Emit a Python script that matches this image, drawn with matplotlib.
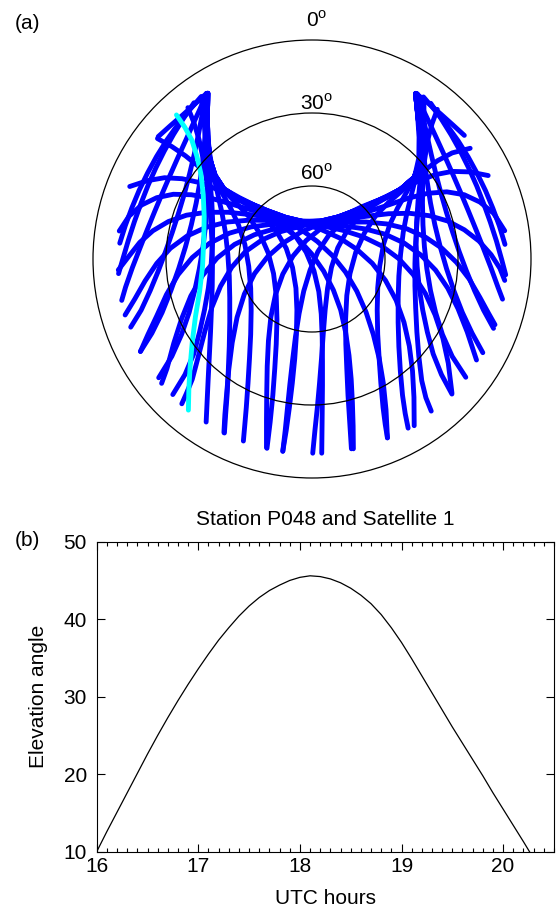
import matplotlib
matplotlib.use("Agg")
import matplotlib.pyplot as plt
from matplotlib.patches import Circle
from matplotlib.ticker import MultipleLocator

plt.rcParams["font.family"] = ["Liberation Sans", "DejaVu Sans"]
plt.rcParams["mathtext.fontset"] = "custom"
plt.rcParams["mathtext.rm"] = "Liberation Sans"

# ---------------------------------------------------------------------------
# (a) Sky tracks of all satellites seen from station P048.
# Points are (east, north) sky coordinates in degrees of zenith distance:
# zenith at the origin, horizon at 90, 10-degree elevation mask at 80.
# ---------------------------------------------------------------------------

# low passes rising in the north-west and setting in the west
nw_low_tracks = [
    [(-45.5, 66.8), (-50.5, 61), (-55.3, 55), (-59.8, 48.7), (-63.9, 42.1), (-67.6, 35.3),
     (-71, 28.3), (-74, 21.1), (-76.7, 13.8), (-79, 6.5)],
    [(-48.5, 64.2), (-52.8, 57.8), (-56.9, 51.2), (-60.7, 44.4), (-64.2, 37.4), (-67.4, 30.2),
     (-70.3, 22.8), (-73, 15.3), (-75.5, 7.6), (-77.8, -0.2), (-79.5, -6)],
    [(-43.3, 68), (-46.1, 61.5), (-49.1, 55), (-52.1, 48.3), (-55.2, 41.5), (-58.3, 34.5),
     (-61.4, 27.3), (-64.5, 19.9), (-67.6, 12.3), (-70.7, 4.5), (-73.8, -3.5), (-76.6, -11.5),
     (-78.2, -17)],
    [(-43.3, 68.1), (-48, 63.8), (-53, 59.3), (-58.2, 54.8), (-63.2, 50.3)],
]

# passes from the north-west horn down to the south-west / south
nw_south_tracks = [
    [(-44, 67), (-45.2, 59), (-46.7, 51), (-48.4, 43), (-50.3, 35), (-52.4, 27), (-54.8, 19),
     (-57.4, 11), (-60.2, 3), (-63.2, -5), (-66.5, -13), (-70.2, -21), (-74.5, -28)],
    [(-43.3, 68), (-43.5, 59), (-44, 50), (-44.8, 41), (-46, 32), (-47.6, 23), (-49.6, 14),
     (-52, 5), (-54.8, -4), (-58, -13), (-61.6, -22), (-65.8, -30.5), (-70.5, -38)],
    [(-45.5, 66), (-44.5, 58), (-43.8, 49.5), (-43.3, 41), (-43, 32), (-43.1, 23), (-43.7, 14),
     (-44.8, 5), (-46.3, -4), (-48.2, -13), (-50.5, -22), (-53.6, -31), (-57.6, -40), (-63, -48.8)],
    [(-43.3, 68), (-43.3, 59), (-43.2, 50), (-42.9, 41), (-42, 32.5), (-41.2, 24), (-40.8, 15),
     (-40.9, 6), (-41.5, -3), (-42.6, -12), (-44.2, -21), (-46.2, -30), (-48.6, -39),
     (-52.2, -47.5), (-57.2, -55.7)],
    [(-51, 62.2), (-48.5, 56), (-46.4, 49), (-44.8, 41.5), (-43.5, 33.5), (-42.4, 25), (-41.6, 16),
     (-41.1, 7), (-40.9, -2), (-41, -11), (-41.3, -20), (-41.7, -30), (-42.2, -40), (-42.7, -50),
     (-43.1, -58.5), (-43.5, -67)],
    [(-44, 67), (-43.5, 59), (-42.9, 51), (-42, 43), (-40.6, 35), (-38.8, 27), (-37, 19),
     (-35.6, 11), (-34.6, 2), (-34, -7), (-33.8, -16), (-33.8, -26), (-34, -36), (-34.4, -46),
     (-34.9, -56), (-35.5, -64), (-36, -71.5)],
    [(-43.3, 68), (-43.3, 59), (-43, 50), (-42.2, 41.5), (-40.3, 34), (-37.2, 27.5), (-33.5, 21),
     (-30.2, 14), (-27.6, 6), (-26, -3), (-25.2, -12), (-25, -21), (-25.2, -31), (-25.7, -41),
     (-26.3, -51), (-27, -61), (-27.6, -68), (-28.2, -74.8)],
    [(-43.3, 68), (-43.3, 58), (-43, 49), (-42.2, 41), (-40, 34), (-36.3, 28.2), (-31.3, 23.2),
     (-26, 17.5), (-21.5, 10.5), (-18, 2.5), (-15.8, -6), (-14.7, -15), (-14.4, -25), (-14.7, -35),
     (-15.3, -45), (-16.1, -56), (-17.2, -67), (-18.5, -77.8)],
    [(-43.3, 68), (-43.3, 58), (-43, 49), (-42.2, 41), (-40, 34), (-36.5, 28.4), (-31.5, 25.2),
     (-25.5, 21.8), (-19.8, 17.2), (-14.6, 11.4), (-10.6, 4.4), (-8, -3.5), (-6.6, -12),
     (-6.2, -21), (-6.4, -31), (-7.1, -41), (-8.1, -51), (-9.3, -61), (-10.6, -70.5), (-12, -79)],
    [(-42.8, 68.1), (-43, 58.2), (-42.8, 49.2), (-42, 41.2), (-39.8, 34.3), (-36.2, 28.8),
     (-31.2, 25.5), (-25.2, 22.4), (-18.8, 19), (-12.4, 14.8), (-6.8, 9.4), (-2.4, 2.8),
     (0.8, -4.8), (2.8, -13.4), (3.8, -22.6), (4.2, -32.2), (4.3, -42), (4.3, -52), (4.2, -62),
     (4.1, -71), (4, -79.8)],
]

# passes from the north-west horn sweeping across the north to the east / south-east
nw_east_tracks = [
    [(-43.3, 68), (-43.3, 58), (-43, 49), (-42.2, 41), (-40, 34), (-36.5, 28.4), (-31.5, 25.2),
     (-25.5, 22), (-19, 18.4), (-12.4, 14), (-6, 8.6), (-0.2, 2.2), (4.8, -5), (8.8, -12.8),
     (11.8, -21), (13.8, -30), (15.2, -39.6), (16.1, -49.4), (16.6, -59), (16.9, -68.6), (17, -78)],
    [(-42.8, 68.1), (-43, 58.2), (-42.8, 49.2), (-42, 41.2), (-39.8, 34.3), (-36.2, 28.8),
     (-31.2, 25.5), (-25.2, 22.7), (-18.5, 19.3), (-11.4, 16), (-4.4, 12), (2.2, 7.2), (8.4, 1.4),
     (13.8, -5.4), (18.4, -13.2), (22.2, -21.8), (25.2, -31), (27.6, -40.8), (29.3, -51),
     (30.4, -61.8), (31, -73.5)],
    [(-43.3, 68), (-43.3, 58), (-43, 49), (-42.2, 41), (-40, 34), (-36.5, 28.4), (-31.5, 25.2),
     (-25.5, 22.4), (-18.5, 19.5), (-11, 16.8), (-3.5, 14.6), (4, 12), (11.4, 8.6), (18.4, 4),
     (24.8, -1.8), (30.2, -8.8), (34.6, -17), (37.8, -26), (40, -35.8), (41.3, -46),
     (41.9, -56.8), (42, -68.5)],
    [(-42.8, 68.1), (-43, 58.2), (-42.8, 49.2), (-42, 41.2), (-39.8, 34.3), (-36.2, 28.8),
     (-31.2, 25.5), (-25.2, 22.7), (-18.2, 19.8), (-10.8, 17.1), (-3.3, 15.3), (4.4, 13.6),
     (12.6, 11.8), (20.8, 9.2), (28.6, 5.4), (35.6, 0.2), (41.6, -6.4), (46.6, -14.2), (50.6, -23),
     (53.8, -32.6), (56, -42.8), (57.5, -55)],
    [(-43.3, 68), (-43.3, 58), (-43, 49), (-42.2, 41), (-40, 34), (-36.5, 28.4), (-31.5, 25.2),
     (-25.5, 22.4), (-18.5, 19.5), (-11, 16.8), (-3.5, 15), (4.6, 14.4), (13, 13.6), (21.6, 12.4),
     (30, 10.2), (37.8, 6.6), (44.8, 1.6), (50.8, -4.6), (55.8, -12), (60, -20.4), (63.8, -30),
     (67.6, -41.5)],
    [(-42.8, 68.1), (-43, 58.2), (-42.8, 49.2), (-42, 41.2), (-39.8, 34.3), (-36.2, 28.8),
     (-31.2, 25.5), (-25.2, 22.7), (-18.2, 19.8), (-10.8, 17.1), (-3.3, 15.3), (4.8, 15),
     (13.4, 15.2), (22.2, 15.2), (30.8, 14.4), (39, 12.4), (46.6, 9), (53.4, 4.4), (59.4, -1.4),
     (64.6, -8.2), (69, -15.8), (72.6, -22.4), (75.2, -27)],
    [(-43.3, 68), (-43.3, 58), (-43, 49), (-42.2, 41), (-40, 34), (-36.5, 28.4), (-31.5, 25.2),
     (-25.5, 22.4), (-18.5, 19.5), (-11, 16.8), (-3.5, 15), (5, 15.4), (13.8, 16.4), (22.6, 17.6),
     (31.4, 18.6), (40, 18.8), (48.2, 17.8), (55.8, 15.6), (62.6, 12), (68.6, 7.4), (73.6, 1.8),
     (77.2, -3.8), (79.2, -8.8)],
    [(-42.8, 68.1), (-43, 58.2), (-42.8, 49.2), (-42, 41.2), (-39.8, 34.3), (-36.2, 28.8),
     (-31.2, 25.5), (-25.2, 22.7), (-18.2, 19.8), (-10.8, 17.1), (-3.3, 15.3), (5.2, 15.8),
     (14, 17.2), (22.8, 19.4), (31.4, 22.2), (39.6, 25), (47.6, 27), (55.4, 27.6), (62.6, 26.4),
     (69, 23.4), (74.6, 18.8), (79.2, 11.6)],
    [(-43.3, 68), (-43.3, 58), (-43, 49), (-42.2, 41), (-40, 34), (-36.5, 28.4), (-31.5, 25.2),
     (-25.5, 22.4), (-18.5, 19.5), (-11, 16.8), (-3.5, 15), (5.2, 15.4), (13.6, 17.8), (21.6, 21),
     (29, 24.4), (36.2, 28.2), (43.2, 31.8), (50.4, 34.6), (57.6, 36), (64.8, 35.8), (72.4, 34.3)],
    [(-42.8, 68.1), (-43, 58.2), (-42.8, 49.2), (-42, 41.2), (-39.8, 34.3), (-36.2, 28.8),
     (-31.2, 25.5), (-25.2, 22.7), (-18.2, 19.8), (-10.8, 17.1), (-3.3, 15.3), (5, 15.6),
     (13.2, 18), (20.8, 21.6), (27.8, 24.4), (34.4, 27.6), (40.6, 31.4), (46.2, 36.4),
     (51.6, 40.4), (57.6, 43.6), (65, 45.5)],
]

# low passes rising in the north-east and setting in the east
ne_low_tracks = [
    [(45.8, 66.6), (50.8, 60.8), (55.6, 54.8), (60.1, 48.5), (64.2, 41.9), (67.9, 35.1),
     (71.3, 28.1), (74.3, 20.9), (77, 13.6), (79.3, 6)],
    [(48.8, 64), (53.1, 57.6), (57.2, 51), (61, 44.2), (64.5, 37.2), (67.7, 30), (70.6, 22.6),
     (73.3, 15.1), (75.8, 7.4), (78, -0.4), (79.6, -6.5)],
    [(42.6, 68), (45.6, 61.5), (48.7, 55), (51.8, 48.3), (54.9, 41.5), (58, 34.5), (61.1, 27.3),
     (64.2, 19.9), (67.3, 12.3), (70.4, 4.5), (73.5, -3.5), (76.4, -11.5), (78.3, -16.5)],
    [(42.6, 68.1), (47.8, 64), (53, 59.5), (57.9, 55.1), (62.6, 50.8)],
]

# passes from the north-east horn down to the south-east / south
ne_south_tracks = [
    [(44, 67), (45.5, 59), (47.2, 51), (49, 43), (50.9, 35), (53, 27), (55.3, 19), (57.8, 11),
     (60.5, 3), (63.5, -5), (66.8, -13), (70.5, -21), (74.6, -28.5)],
    [(42.6, 68), (43.8, 59), (45, 50), (46.1, 41), (47.3, 32), (48.7, 23), (50.5, 14), (52.7, 5),
     (55.3, -4), (58.3, -13), (61.8, -22), (65.8, -30.5), (70.2, -38.5)],
    [(46, 66), (46, 58), (46, 49.5), (45.8, 41), (45.5, 32), (45.4, 23), (45.6, 14), (46.2, 5),
     (47.2, -4), (48.7, -13), (50.8, -22), (53.6, -31), (57.6, -40), (63.2, -48.6)],
    [(42.6, 68), (43.6, 59), (44.5, 50), (44.9, 41), (44.5, 32.5), (43.6, 24), (43, 15), (42.8, 6),
     (43.2, -3), (44.1, -12), (45.5, -21), (47.4, -30), (49.8, -39), (53.2, -47.5), (57.5, -55.5)],
    [(51.5, 61.5), (49.3, 55.5), (47.6, 49), (46.4, 41.5), (45.2, 33.5), (44.1, 25), (43.2, 16),
     (42.6, 7), (42.3, -2), (42.3, -11), (42.6, -20), (43.1, -30), (43.9, -40), (45.1, -50),
     (46.8, -57), (49, -62.5)],
    [(44, 67), (44.3, 59), (44.6, 51), (44.4, 43), (43, 35), (41, 27), (39, 19), (37.5, 11),
     (36.4, 2), (35.7, -7), (35.4, -16), (35.4, -26), (35.7, -36), (36.3, -46), (37.2, -56),
     (38.3, -63.5), (39.5, -69.5)],
    [(42.6, 68), (43.4, 59), (44, 50), (43.9, 41.5), (42.2, 34), (38.9, 27.5), (35.2, 21),
     (31.9, 14), (29.4, 6), (27.8, -3), (27, -12), (26.8, -21), (27, -31), (27.6, -41), (28.3, -51),
     (29.2, -61), (30.1, -68), (31, -73.5)],
    [(42.6, 68), (43.6, 58), (44.5, 49), (44.6, 41), (42, 33.7), (37.2, 28.2), (31.6, 23.4),
     (26.2, 17.8), (21.6, 10.8), (18, 2.8), (15.6, -6), (14.3, -15), (13.8, -25), (13.9, -35),
     (14.3, -45), (14.8, -56), (15.5, -67), (16.2, -78)],
    [(42.6, 67.5), (43.6, 58), (44.6, 49), (44.8, 41), (42, 33.5), (36.2, 28.4), (30.5, 25.3),
     (25, 21.9), (19.4, 17.4), (14.4, 11.6), (10.6, 4.6), (8, -3.4), (6.4, -12), (5.4, -21),
     (4.6, -31), (3.9, -41), (3.1, -51), (2.2, -61), (1.2, -70.5), (0.3, -79.8)],
    [(43.2, 67.8), (44, 58.2), (44.8, 49.3), (45, 41.3), (42.3, 33.8), (36.5, 28.7), (30.8, 25.6),
     (25.3, 22.9), (18.6, 19.2), (12.4, 15), (6.8, 9.6), (2.4, 3), (-0.8, -4.6), (-3.4, -13.2),
     (-5.3, -22.4), (-6.8, -32), (-8, -41.8), (-9.1, -51.6), (-10.1, -61.4), (-11, -70.4),
     (-12, -79)],
]

# passes from the north-east horn sweeping across the north to the west / south-west
ne_west_tracks = [
    [(42.6, 67.5), (43.6, 58), (44.6, 49), (44.8, 41), (42, 33.5), (36.2, 28.4), (30.5, 25.3),
     (25, 22.9), (18, 19.8), (11, 16.6), (4, 12.8), (-2.4, 7.6), (-7.8, 1.2), (-12, -6.2),
     (-15, -14.6), (-16.9, -23.8), (-17.9, -33.6), (-18.4, -44), (-18.6, -55), (-18.7, -66),
     (-18.7, -77.5)],
    [(43.2, 67.8), (44, 58.2), (44.8, 49.3), (45, 41.3), (42.3, 33.8), (36.5, 28.7), (30.8, 25.6),
     (25.3, 23.2), (18.3, 20.1), (10.8, 17.3), (3, 14.4), (-4.6, 11), (-11.8, 6.6), (-18.2, 1),
     (-23.6, -6), (-27.8, -14.4), (-30.8, -24), (-32.8, -34.4), (-34.2, -45.4), (-35.2, -56.8),
     (-35.8, -64), (-36.2, -71.3)],
    [(42.6, 67.5), (43.6, 58), (44.6, 49), (44.8, 41), (42, 33.5), (36.2, 28.4), (30.5, 25.3),
     (25, 22.9), (18, 19.8), (10.5, 17), (3, 15.2), (-5, 13.4), (-13, 11.2), (-20.6, 7.8),
     (-27.4, 3), (-33, -3.4), (-37.6, -11.2), (-41.2, -20), (-44, -29.6), (-46.6, -39.6),
     (-49.2, -49.4), (-51.5, -55), (-53.5, -59.5)],
    [(43.2, 67.8), (44, 58.2), (44.8, 49.3), (45, 41.3), (42.3, 33.8), (36.5, 28.7), (30.8, 25.6),
     (25.3, 23.2), (18.3, 20.1), (10.8, 17.3), (3.3, 15.5), (-5.5, 14), (-14.6, 12.6), (-23.6, 10),
     (-31.8, 6), (-39, 0.4), (-45, -6.8), (-49.8, -15.2), (-53.6, -24.6), (-56.8, -34.6),
     (-59.6, -45), (-61.8, -51.1)],
    [(42.6, 67.5), (43.6, 58), (44.6, 49), (44.8, 41), (42, 33.5), (36.2, 28.4), (30.5, 25.3),
     (25, 22.9), (18, 19.8), (10.5, 17), (3, 15.2), (-6, 14.8), (-15.6, 14.4), (-25, 13.2),
     (-34, 10.6), (-42.2, 6.4), (-49.2, 0.6), (-55, -6.4), (-59.8, -14.6), (-63.8, -23.4),
     (-67.4, -31), (-70.5, -38)],
    [(43.2, 67.8), (44, 58.2), (44.8, 49.3), (45, 41.3), (42.3, 33.8), (36.5, 28.7), (30.8, 25.6),
     (25.3, 23.2), (18.3, 20.1), (10.8, 17.3), (3.3, 15.5), (-6.2, 15.2), (-15.8, 15.8),
     (-25.4, 16), (-34.8, 15.2), (-43.6, 13), (-51.4, 9.4), (-58.2, 4.4), (-63.8, -1.8),
     (-68.6, -9), (-72.8, -16.4), (-76.8, -23)],
    [(42.6, 67.5), (43.6, 58), (44.6, 49), (44.8, 41), (42, 33.5), (36.2, 28.4), (30.5, 25.3),
     (25, 22.9), (18, 19.8), (10.5, 17), (3, 15.2), (-6.2, 15.6), (-15.6, 16.8), (-25, 18.2),
     (-34.4, 19.2), (-43.4, 19.2), (-51.6, 18), (-59, 15.4), (-65.4, 11.6), (-70.8, 6.8),
     (-75.2, 1.2), (-79.6, -4.5)],
    [(43.2, 67.8), (44, 58.2), (44.8, 49.3), (45, 41.3), (42.3, 33.8), (36.5, 28.7), (30.8, 25.6),
     (25.3, 23.2), (18.3, 20.1), (10.8, 17.3), (3.3, 15.5), (-6.2, 15.3), (-15.4, 17.6),
     (-24.4, 20), (-33.2, 22.6), (-41.6, 25), (-49.6, 26.4), (-57, 26.6), (-63.8, 25.2),
     (-70, 22.2), (-75.2, 17.6), (-79.2, 11.5)],
    [(42.6, 67.5), (43.6, 58), (44.6, 49), (44.8, 41), (42, 33.5), (36.2, 28.4), (30.5, 25.3),
     (25, 22.9), (18, 19.8), (10.5, 17), (3, 15.2), (-6, 15.4), (-15, 17.6), (-23.6, 21.2),
     (-31.6, 25), (-39, 28.6), (-46.2, 31.4), (-53.4, 33), (-60.6, 33.4), (-67.6, 32.2),
     (-74.9, 29.8)],
    [(43.2, 67.8), (44, 58.2), (44.8, 49.3), (45, 41.3), (42.3, 33.8), (36.5, 28.7), (30.8, 25.6),
     (25.3, 23.2), (18.3, 20.1), (10.8, 17.3), (3.3, 15.5), (-6, 15.6), (-14.8, 17.9),
     (-22.6, 21.6), (-29.8, 25.2), (-36.6, 29), (-41.8, 33.6), (-46.8, 38.2), (-52, 42.4),
     (-57.6, 46.2), (-63.5, 49.5)],
]

# Track of satellite 1 (highlighted)
sat1_east = [-55.7, -52.3, -49.4, -47.3, -45.7, -44.7, -44.3, -44.5, -45.0, -46.2,
             -47.9, -49.2, -50.1, -50.6, -50.8]
sat1_north = [59.2, 54.2, 48.9, 42.2, 35.2, 26.5, 17.4, 7.2, -3.2, -13.4,
              -23.7, -34.0, -44.3, -53.2, -62.1]

# Elevation rings drawn on the sky plot (degrees)
ring_elevations = [0, 30, 60]

# ---------------------------------------------------------------------------
# (b) Elevation angle of satellite 1 at station P048
# ---------------------------------------------------------------------------
utc_hours = [16.0, 16.1, 16.2, 16.3, 16.4, 16.5, 16.6, 16.7, 16.8, 16.9,
             17.0, 17.1, 17.2, 17.3, 17.4, 17.5, 17.6, 17.7, 17.8, 17.9,
             18.0, 18.1, 18.2, 18.3, 18.4, 18.5, 18.6, 18.7, 18.8, 18.9,
             19.0, 19.1, 19.2, 19.3, 19.4, 19.5, 19.6, 19.7, 19.8, 19.9,
             20.0, 20.1, 20.2, 20.26]
elevation = [10.0, 12.6, 15.1, 17.6, 20.1, 22.6, 25.0, 27.3, 29.5, 31.6,
             33.6, 35.5, 37.3, 38.9, 40.4, 41.7, 42.8, 43.7, 44.4, 45.0,
             45.4, 45.6, 45.5, 45.2, 44.7, 44.0, 43.1, 42.0, 40.6, 38.9,
             37.0, 34.9, 32.7, 30.5, 28.3, 26.1, 24.0, 21.9, 19.8, 17.6,
             15.5, 13.4, 11.3, 10.0]
hour_ticks = [16, 17, 18, 19, 20]
elev_ticks = [10, 20, 30, 40, 50]

W, H = 557, 910
fig = plt.figure(figsize=(W / 100, H / 100), dpi=100)

# ---- sky plot ----
ax_sky = fig.add_axes([93 / W, 1 - 478 / H, 438 / W, 438 / H])
ax_sky.set_xlim(-90, 90)
ax_sky.set_ylim(-90, 90)
ax_sky.set_aspect("auto")
ax_sky.axis("off")

all_tracks = (nw_low_tracks + nw_south_tracks + nw_east_tracks
              + ne_low_tracks + ne_south_tracks + ne_west_tracks)
for trk in all_tracks:
    east, north = zip(*trk)
    ax_sky.plot(east, north, color="#0000ff", lw=3.5,
                solid_capstyle="round", solid_joinstyle="round", zorder=2)
ax_sky.plot(sat1_east, sat1_north, color="#00ffff", lw=3.5,
            solid_capstyle="round", solid_joinstyle="round", zorder=3)

label_gap = {0: 5.5, 30: 1.2, 60: 2.5}
for el in ring_elevations:
    zd = 90 - el
    ax_sky.add_patch(Circle((0, 0), zd, fill=False, ec="black", lw=0.9,
                            zorder=4, clip_on=False))
    ax_sky.text(2.0, zd + label_gap[el], f"{el}" + r"$^{\mathrm{o}}$",
                ha="center", va="baseline", fontsize=15, zorder=5)

fig.text(15 / W, 1 - 29 / H, "(a)", fontsize=15, va="baseline")

# ---- elevation time series ----
ax = fig.add_axes([96.7 / W, 58.3 / H, 457.2 / W, 310 / H])
ax.plot(utc_hours, elevation, color="black", lw=0.9)
ax.set_xlim(16, 20.5)
ax.set_ylim(10, 50)
ax.set_xticks(hour_ticks)
ax.set_yticks(elev_ticks)
ax.xaxis.set_minor_locator(MultipleLocator(0.1))
ax.tick_params(which="both", direction="in", top=True, right=True,
               labelsize=15, width=0.8)
ax.tick_params(which="major", length=6)
ax.tick_params(axis="x", which="major", pad=4)
ax.tick_params(axis="y", which="major", pad=7)
ax.tick_params(which="minor", length=3)
for s in ax.spines.values():
    s.set_linewidth(0.8)
ax.set_title("Station P048 and Satellite 1", fontsize=15, pad=12)
ax.set_xlabel("UTC hours", fontsize=15, labelpad=9)
ax.set_ylabel("Elevation angle", fontsize=15, labelpad=11)

fig.text(15 / W, 1 - 546 / H, "(b)", fontsize=15, va="baseline")

fig.savefig("out.png", dpi=100)
